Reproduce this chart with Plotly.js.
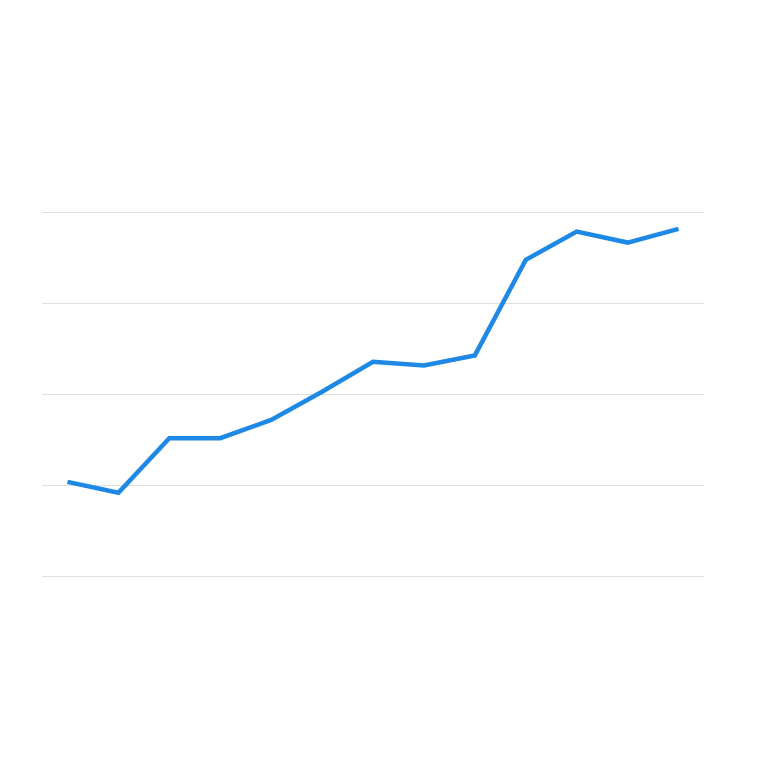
<!DOCTYPE html>
<html>
<head>
<meta charset="utf-8">
<script src="https://cdn.plot.ly/plotly-3.0.1.min.js"></script>
<style>
  html, body { margin: 0; padding: 0; background: #fff; }
  #chart { width: 762px; height: 762px; }
</style>
</head>
<body>
<div id="chart"></div>
<script>
// positions along the x axis (13 periods, no labels shown)
const periods = [0, 1, 2, 3, 4, 5, 6, 7, 8, 9, 10, 11, 12];
// series values
const values = [1.04, 0.92, 1.52, 1.52, 1.72, 2.03, 2.36, 2.32, 2.43, 3.48, 3.79, 3.67, 3.82];
const gridValues = [0, 1, 2, 3, 4];

const trace = {
  x: periods,
  y: values,
  type: 'scatter',
  mode: 'lines',
  line: { color: '#1e88e5', width: 4.5 },
  hoverinfo: 'skip'
};

// range padded a little so the 0 and 4 gridlines are not clipped at the edges
const layout = {
  width: 762,
  height: 762,
  margin: { l: 42, r: 58, t: 208, b: 181 },
  paper_bgcolor: '#ffffff',
  plot_bgcolor: '#ffffff',
  showlegend: false,
  xaxis: {
    range: [-0.5, 12.5],
    showgrid: false,
    zeroline: false,
    showticklabels: false,
    ticks: ''
  },
  yaxis: {
    range: [-0.05, 4.05],
    tickvals: gridValues,
    showgrid: true,
    gridcolor: '#e0e0e0',
    gridwidth: 1.5,
    zeroline: false,
    showticklabels: false,
    ticks: ''
  }
};

Plotly.newPlot('chart', [trace], layout, { displayModeBar: false, staticPlot: true });
</script>
</body>
</html>
